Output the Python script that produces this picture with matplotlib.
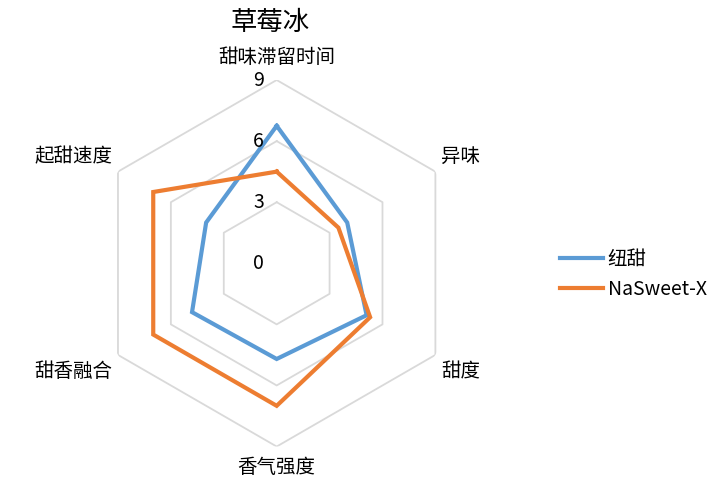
import numpy as np
import matplotlib
matplotlib.use("Agg")
import matplotlib.pyplot as plt

plt.rcParams['font.family'] = ['Noto Sans CJK SC', 'DejaVu Sans']

# data
title = "草莓冰"
categories = ["甜味滞留时间", "异味", "甜度", "香气强度", "甜香融合", "起甜速度"]
niutian = [6.75, 4.0, 5.1, 4.7, 4.8, 4.0]
nasweet = [4.5, 3.5, 5.3, 7.0, 7.0, 7.0]
series_names = ["纽甜", "NaSweet-X"]
rings = [3, 6, 9]
tick_vals = [0, 3, 6, 9]

BLUE = "#5B9BD5"
ORANGE = "#ED7D31"
GRID = "#D9D9D9"

fig = plt.figure(figsize=(7.26, 4.9), dpi=100)
ax = fig.add_axes([0.1286, 0.0887, 0.505, 0.748], projection="polar")
ax.set_theta_zero_location("N")
ax.set_theta_direction(-1)
ax.set_ylim(0, 9)
ax.grid(False)
ax.spines["polar"].set_visible(False)
ax.set_xticks([])
ax.set_yticks([])
ax.patch.set_alpha(0)

n = len(categories)
angles = np.linspace(0, 2 * np.pi, n, endpoint=False)
closed = np.append(angles, angles[0])

# hexagonal grid
for r in rings:
    ax.plot(closed, [r] * (n + 1), color=GRID, lw=1.3, zorder=1)

l1, = ax.plot(closed, niutian + niutian[:1], color=BLUE, lw=3, zorder=3)
l2, = ax.plot(closed, nasweet + nasweet[:1], color=ORANGE, lw=3, zorder=3)
for l in (l1, l2):
    l.set_solid_joinstyle("miter")
    l.set_clip_on(False)

# value labels
for v in tick_vals:
    ax.annotate(str(v), (0, v), xytext=(-13, 0), textcoords="offset points",
                ha="center", va="center", fontsize=14, zorder=4)

# category labels
offsets = [(0, 16.5, "center"), (4, 11, "left"), (4, -12, "left"),
           (0, -15, "center"), (-4, -12, "right"), (-4, 11, "right")]
for ang, cat, (dx, dy, ha) in zip(angles, categories, offsets):
    ax.annotate(cat, (ang, 9), xytext=(dx, dy), textcoords="offset points",
                ha=ha, va="center", fontsize=14, annotation_clip=False)

fig.text(270 / 726, 1 - 22 / 490, title, ha="center", va="center", fontsize=19)

fig.legend([l1, l2], series_names, loc="center left",
           bbox_to_anchor=(560 / 726, 1 - 274.5 / 490), frameon=False,
           fontsize=14, handlelength=2.2, handletextpad=0.25,
           labelspacing=0.45, borderpad=0, borderaxespad=0)

fig.savefig("out.png", dpi=100)
